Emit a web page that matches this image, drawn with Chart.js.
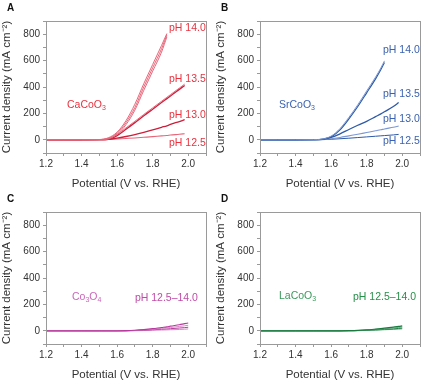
<!DOCTYPE html>
<html>
<head>
<meta charset="utf-8">
<script src="https://cdn.jsdelivr.net/npm/chart.js@4.4.1/dist/chart.umd.min.js"></script>
<style>
  html, body { margin: 0; padding: 0; background: #fff; }
  body { width: 429px; height: 389px; position: relative; overflow: hidden; }
  .panel { position: absolute; width: 214px; height: 191px; }
  .panel canvas { display: block; }
</style>
</head>
<body>
<div class="panel" style="left:0;top:0"><canvas id="cA" width="214" height="191"></canvas></div>
<div class="panel" style="left:214px;top:0"><canvas id="cB" width="214" height="191"></canvas></div>
<div class="panel" style="left:0;top:191px"><canvas id="cC" width="214" height="191"></canvas></div>
<div class="panel" style="left:214px;top:191px"><canvas id="cD" width="214" height="191"></canvas></div>
<script>
// ---------------- DATA ----------------
const potential = [1.20, 1.30, 1.40, 1.50, 1.55, 1.60, 1.65, 1.70, 1.75, 1.80, 1.85, 1.88, 1.90, 1.95, 1.98, 2.00];
const xTickLabels = ['1.2', '1.4', '1.6', '1.8', '2.0'];
const yTickLabels = ['0', '200', '400', '600', '800'];

// Panel A: CaCoO3
const caCoO3_pH140_a = [0, 0, 0, 2, 15, 58, 145, 270, 425, 570, 715, 805, null, null, null, null];
const caCoO3_pH140_b = [0, 0, 0, 2, 12, 50, 130, 245, 400, 545, 690, 795, null, null, null, null];
const caCoO3_pH140_c = [0, 0, 0, 1, 9, 42, 115, 225, 375, 520, 665, 780, null, null, null, null];
const caCoO3_pH135_a = [0, 0, 0, 1, 6, 40, 90, 140, 192, 242, 292, 322, 342, 392, 422, null];
const caCoO3_pH135_b = [0, 0, 0, 1, 4, 32, 80, 130, 182, 232, 282, 312, 332, 382, 412, null];
const caCoO3_pH130 = [0, 0, 0, 1, 3, 12, 25, 40, 57, 75, 95, 106, 117, 138, 152, null];
const caCoO3_pH125 = [0, 0, 0, 0, 2, 6, 10, 14, 19, 24, 30, 33, 36, 42, 46, null];

// Panel B: SrCoO3
const srCoO3_pH140_a = [0, 0, 0, 1, 6, 28, 85, 170, 265, 370, 475, 545, 598, null, null, null];
const srCoO3_pH140_b = [0, 0, 0, 1, 4, 22, 75, 158, 252, 356, 462, 532, 586, null, null, null];
const srCoO3_pH135 = [0, 0, 0, 1, 4, 18, 45, 78, 110, 140, 175, 196, 212, 252, 282, null];
const srCoO3_pH130 = [0, 0, 0, 0, 2, 8, 18, 30, 42, 55, 68, 76, 82, 95, 104, null];
const srCoO3_pH125 = [0, 0, 0, 0, 1, 4, 8, 12, 17, 22, 27, 30, 32, 37, 41, null];

// Panel C: Co3O4 (pH 14.0, 13.5, 13.0, 12.5)
const co3O4_pH140 = [0, 0, 0, 0, 0, 0, 1, 4, 9, 16, 25, 30, 35, 46, 54, 59];
const co3O4_pH135 = [0, 0, 0, 0, 0, 0, 1, 3, 7, 12, 18, 22, 25, 33, 38, 42];
const co3O4_pH130 = [0, 0, 0, 0, 0, 0, 0, 2, 4, 8, 12, 14, 16, 21, 24, 27];
const co3O4_pH125 = [0, 0, 0, 0, 0, 0, 0, 1, 2, 4, 6, 7, 8, 10, 12, 14];

// Panel D: LaCoO3 (pH 14.0, 13.5, 13.0, 12.5)
const laCoO3_pH140 = [0, 0, 0, 0, 0, 0, 0, 1, 3, 7, 13, 17, 20, 28, 33, 37];
const laCoO3_pH135 = [0, 0, 0, 0, 0, 0, 0, 1, 2, 5, 10, 13, 15, 21, 25, 29];
const laCoO3_pH130 = [0, 0, 0, 0, 0, 0, 0, 1, 2, 4, 7, 9, 11, 15, 18, 21];
const laCoO3_pH125 = [0, 0, 0, 0, 0, 0, 0, 0, 1, 3, 5, 7, 8, 11, 13, 15];

// ---------------- RENDERING ----------------
const FONT = "'Liberation Sans', Arial, Helvetica, sans-serif";

function series(vals, color, width) {
  const pts = [];
  potential.forEach((x, i) => { if (vals[i] !== null) pts.push({ x: x, y: vals[i] }); });
  return {
    data: pts, borderColor: color, borderWidth: width || 1, pointRadius: 0,
    cubicInterpolationMode: 'monotone', fill: false
  };
}

const panelPlugin = {
  id: 'panelDeco',
  afterDraw(chart, args, opts) {
    const ctx = chart.ctx, a = chart.chartArea;
    ctx.save();
    ctx.strokeStyle = '#9a9a9a';
    ctx.lineWidth = 1;
    ctx.strokeRect(Math.round(a.left) + 0.5, Math.round(a.top) + 0.5,
                   Math.round(a.right - a.left), Math.round(a.bottom - a.top));
    ctx.fillStyle = '#111';
    ctx.font = 'bold 10px ' + FONT;
    ctx.textBaseline = 'middle';
    ctx.textAlign = 'left';
    ctx.fillText(opts.letter, 7, 8);
    const xs = chart.scales.x, ys = chart.scales.y;
    (opts.texts || []).forEach(t => {
      let px = xs.getPixelForValue(t.x);
      const py = ys.getPixelForValue(t.y);
      ctx.fillStyle = t.color;
      t.parts.forEach(p => {
        if (p.sub) {
          ctx.font = '7px ' + FONT;
          ctx.fillText(p.s, px, py + 3);
        } else {
          ctx.font = '10.5px ' + FONT;
          ctx.fillText(p.s, px, py);
        }
        px += ctx.measureText(p.s).width;
      });
    });
    ctx.restore();
  }
};

function makeChart(id, letter, datasets, texts) {
  new Chart(document.getElementById(id), {
    type: 'line',
    data: { datasets: datasets },
    plugins: [panelPlugin],
    options: {
      responsive: false,
      animation: false,
      events: [],
      layout: { padding: { left: 0, right: 8, top: 21, bottom: 0 } },
      plugins: {
        legend: { display: false },
        tooltip: { enabled: false },
        panelDeco: { letter: letter, texts: texts }
      },
      scales: {
        x: {
          type: 'linear', min: 1.2, max: 2.1,
          afterFit: s => { s.height = 38; },
          ticks: {
            stepSize: 0.1, autoSkip: false, maxRotation: 0, padding: 2,
            color: '#333', font: { size: 10, family: FONT },
            callback: v => {
              const lab = (Math.round(v * 10) / 10).toFixed(1);
              return xTickLabels.includes(lab) ? lab : '';
            }
          },
          grid: { drawOnChartArea: false, drawTicks: true, tickLength: 3, color: '#9a9a9a' },
          border: { display: true, color: '#9a9a9a' },
          title: { display: true, text: 'Potential (V vs. RHE)', color: '#333',
                   font: { size: 11.5, family: FONT }, padding: { top: 2, bottom: 0 } }
        },
        y: {
          type: 'linear', min: -100, max: 900,
          afterFit: s => { s.width = 46; },
          ticks: {
            stepSize: 100, autoSkip: false, padding: 3,
            color: '#333', font: { size: 10, family: FONT },
            callback: v => {
              const lab = String(Math.round(v));
              return yTickLabels.includes(lab) ? lab : '';
            }
          },
          grid: { drawOnChartArea: false, drawTicks: true, tickLength: 3, color: '#9a9a9a' },
          border: { display: true, color: '#9a9a9a' },
          title: { display: true, text: 'Current density (mA cm\u207B\u00B2)', color: '#333',
                   font: { size: 11.5, family: FONT }, padding: { top: 0, bottom: 0 } }
        }
      }
    }
  });
}

// Panel A
const redL = '#e6677a', redD = '#cc1f3a', redT = '#e8323f';
makeChart('cA', 'A', [
  series(caCoO3_pH140_a, redL), series(caCoO3_pH140_b, redL), series(caCoO3_pH140_c, redL),
  series(caCoO3_pH135_a, redL), series(caCoO3_pH135_b, redD, 1.3),
  series(caCoO3_pH130, redD, 1.3), series(caCoO3_pH125, redL, 1.1)
], [
  { x: 1.318, y: 262, color: redT, parts: [{ s: 'CaCoO' }, { s: '3', sub: true }] },
  { x: 1.892, y: 849, color: redT, parts: [{ s: 'pH 14.0' }] },
  { x: 1.892, y: 462, color: redT, parts: [{ s: 'pH 13.5' }] },
  { x: 1.892, y: 186, color: redT, parts: [{ s: 'pH 13.0' }] },
  { x: 1.892, y: -28, color: redT, parts: [{ s: 'pH 12.5' }] }
]);

// Panel B
const bluL = '#7b98d2', bluD = '#2d5aa8', bluT = '#3b62b0';
makeChart('cB', 'B', [
  series(srCoO3_pH140_a, bluL), series(srCoO3_pH140_b, bluD, 1.2),
  series(srCoO3_pH135, bluD, 1.3), series(srCoO3_pH130, bluL, 1.1), series(srCoO3_pH125, bluD, 1)
], [
  { x: 1.307, y: 262, color: bluT, parts: [{ s: 'SrCoO' }, { s: '3', sub: true }] },
  { x: 1.892, y: 677, color: bluT, parts: [{ s: 'pH 14.0' }] },
  { x: 1.892, y: 346, color: bluT, parts: [{ s: 'pH 13.5' }] },
  { x: 1.892, y: 155, color: bluT, parts: [{ s: 'pH 13.0' }] },
  { x: 1.892, y: -13, color: bluT, parts: [{ s: 'pH 12.5' }] }
]);

// Panel C
const purD = '#b93a9e', purL = '#d88ac8', purT = '#c04aa8';
makeChart('cC', 'C', [
  series(co3O4_pH140, purD, 1.2), series(co3O4_pH135, purL), series(co3O4_pH130, purD), series(co3O4_pH125, purL)
], [
  { x: 1.346, y: 253, color: '#cc66bb', parts: [{ s: 'Co' }, { s: '3', sub: true }, { s: 'O' }, { s: '4', sub: true }] },
  { x: 1.70, y: 245, color: purT, parts: [{ s: 'pH 12.5\u201314.0' }] }
]);

// Panel D
const grnD = '#1b7a40', grnL = '#5fb07e', grnT = '#259048';
makeChart('cD', 'D', [
  series(laCoO3_pH140, grnD, 1.2), series(laCoO3_pH135, grnL), series(laCoO3_pH130, grnD), series(laCoO3_pH125, grnL)
], [
  { x: 1.307, y: 261, color: '#3a9a5c', parts: [{ s: 'LaCoO' }, { s: '3', sub: true }] },
  { x: 1.723, y: 253, color: grnT, parts: [{ s: 'pH 12.5\u201314.0' }] }
]);
</script>
</body>
</html>
